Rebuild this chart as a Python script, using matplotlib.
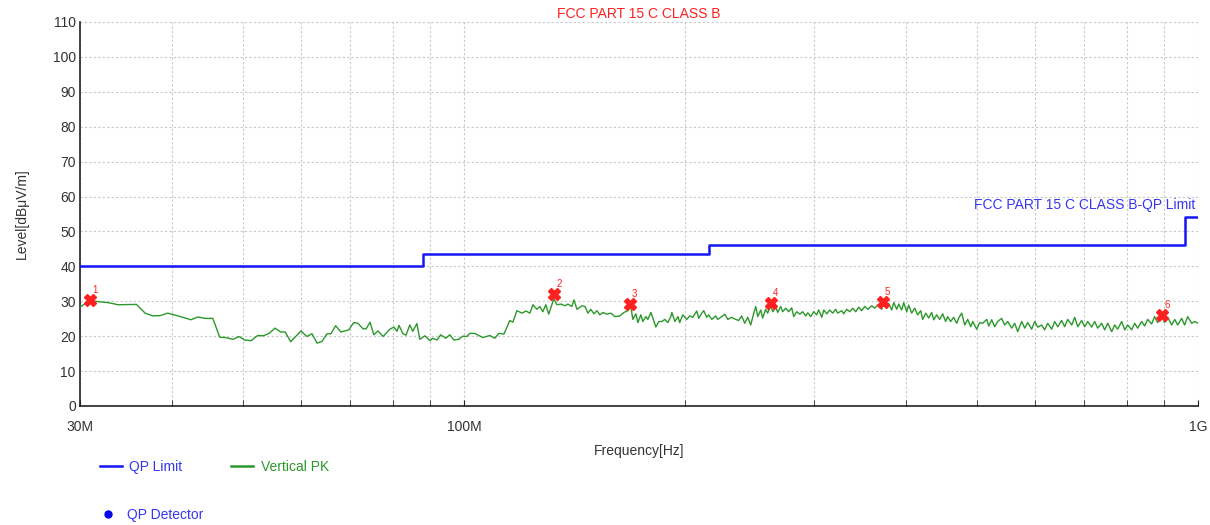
import matplotlib
matplotlib.use("Agg")
import matplotlib.pyplot as plt
from matplotlib.lines import Line2D
from matplotlib.ticker import FixedLocator, NullFormatter

plt.rcParams['font.family'] = ['Liberation Sans', 'DejaVu Sans']

# ---------------- data ----------------
title = "FCC PART 15 C CLASS B"
limit_name = "FCC PART 15 C CLASS B-QP Limit"

# QP limit (MHz, dBuV/m), step-wise
limit_freq = [30, 88, 88, 216, 216, 960, 960, 1000]
limit_level = [40, 40, 43.5, 43.5, 46, 46, 54, 54]

# Vertical PK trace (MHz)
pk_freq = [
    30.0, 31.0, 31.4, 32.8, 33.8, 35.8, 36.8, 37.7, 38.6, 39.5, 40.8, 42.5, 43.4, 44.4, 45.5,
    46.5, 47.4, 48.5, 49.4, 50.3, 51.3, 52.4, 53.3, 54.3, 55.3, 56.3, 57.1, 58.1, 60.0, 61.1,
    62.1, 63.1, 64.1, 65.1, 65.9, 66.9, 68.0, 69.7, 70.8, 71.7, 72.9, 73.6, 74.5, 75.4, 76.4,
    77.6, 79.3, 80.3, 81.1, 81.6, 82.6, 83.4, 84.4, 85.2, 86.3, 87.1, 88.5, 89.9, 90.7, 91.9,
    93.0, 94.5, 95.7, 96.9, 98.4, 99.7, 100.9, 101.9, 103.5, 106.1, 108.5, 110.2, 111.6, 113.4, 115.5,
    116.6, 118.1, 120.0, 121.5, 123.0, 124.2, 125.7, 126.9, 128.1, 129.3, 130.5, 131.8, 132.6, 133.9, 135.6,
    137.3, 138.6, 140.3, 141.2, 142.6, 144.8, 146.2, 147.6, 148.9, 150.4, 151.8, 153.2, 154.7, 156.6, 158.6,
    160.6, 163.1, 165.2, 167.3, 168.8, 169.9, 171.5, 172.6, 174.2, 175.3, 177.0, 178.1, 179.8, 180.9, 182.6,
    184.3, 186.1, 187.8, 189.6, 191.4, 192.0, 193.8, 195.7, 196.8, 198.7, 201.2, 203.1, 205.0, 207.6, 208.9,
    210.9, 212.2, 214.2, 215.5, 217.6, 220.3, 221.7, 224.5, 226.7, 228.8, 231.6, 234.6, 236.8, 239.0, 241.3,
    243.6, 245.9, 248.2, 249.8, 251.4, 253.7, 255.3, 257.7, 259.3, 261.8, 263.5, 266.0, 267.6, 270.1, 271.8,
    274.4, 277.0, 279.6, 281.4, 284.1, 286.8, 289.4, 292.2, 294.0, 296.8, 299.6, 302.4, 304.3, 307.3, 309.2,
    312.1, 315.0, 318.0, 321.0, 323.0, 327.1, 329.1, 332.3, 335.4, 338.6, 341.8, 345.0, 348.2, 351.6, 354.9,
    359.4, 362.8, 366.3, 370.8, 373.2, 376.7, 379.0, 382.6, 385.1, 388.7, 391.1, 394.8, 397.3, 401.1, 403.5,
    407.4, 411.3, 415.1, 419.1, 421.7, 425.7, 429.8, 433.7, 436.5, 440.6, 444.7, 448.9, 453.2, 456.0, 460.3,
    464.7, 469.1, 472.1, 476.5, 481.1, 485.6, 490.2, 493.3, 499.5, 504.2, 509.0, 515.5, 518.7, 523.6, 528.5,
    533.5, 540.2, 545.3, 550.5, 557.4, 562.7, 568.0, 575.2, 580.7, 586.2, 593.5, 599.1, 604.8, 612.4, 618.2,
    624.1, 632.0, 637.9, 644.0, 652.0, 658.3, 664.5, 673.0, 679.3, 685.8, 694.2, 700.8, 707.4, 716.4, 723.2,
    730.0, 739.2, 746.2, 753.3, 762.8, 770.0, 777.2, 787.1, 794.6, 802.1, 812.1, 819.8, 827.5, 838.0, 845.9,
    853.9, 864.6, 872.8, 881.0, 892.2, 900.6, 909.2, 920.9, 929.6, 938.4, 949.9, 958.9, 968.0, 980.3, 989.5,
    1000.0,
]
pk_level = [
    28.3, 30.3, 30.0, 29.6, 29.0, 29.1, 26.6, 25.8, 25.9, 26.6, 25.8, 24.7, 25.5, 25.1, 25.1,
    19.7, 19.6, 19.1, 19.9, 18.9, 18.7, 20.2, 20.1, 20.8, 22.3, 21.2, 21.2, 18.4, 21.5, 19.9,
    20.7, 18.0, 18.5, 20.7, 20.7, 23.0, 21.2, 21.8, 23.9, 23.7, 22.1, 22.1, 24.0, 20.4, 21.5,
    19.9, 22.0, 22.6, 21.4, 23.1, 20.7, 20.3, 23.2, 21.4, 23.6, 19.1, 20.1, 18.7, 19.4, 18.9,
    20.4, 19.4, 20.4, 18.9, 19.1, 20.0, 19.9, 20.8, 20.8, 19.6, 20.2, 19.4, 20.8, 20.6, 24.5,
    24.0, 27.3, 26.6, 27.2, 26.6, 29.0, 27.7, 28.5, 27.0, 29.0, 26.3, 29.0, 30.7, 29.0, 29.2,
    28.7, 29.2, 28.5, 30.4, 27.7, 28.7, 28.5, 26.6, 27.7, 26.4, 27.3, 26.1, 26.8, 26.3, 26.6,
    25.6, 25.8, 26.8, 27.3, 28.5, 24.8, 26.4, 23.9, 26.1, 24.2, 25.6, 24.8, 26.8, 25.2, 22.6,
    24.2, 24.2, 24.8, 23.9, 25.6, 26.8, 24.2, 25.6, 23.9, 26.1, 24.8, 25.8, 25.4, 27.2, 25.1,
    26.6, 27.3, 25.4, 26.1, 24.8, 25.8, 24.8, 25.6, 26.3, 24.8, 25.4, 24.8, 24.5, 25.8, 23.7,
    25.4, 23.2, 26.5, 28.5, 25.6, 27.5, 25.2, 27.7, 26.6, 28.7, 27.0, 28.3, 26.8, 28.5, 27.0,
    28.0, 27.0, 28.1, 25.6, 27.0, 26.3, 27.0, 25.8, 26.7, 25.6, 27.0, 26.1, 27.5, 25.4, 27.5,
    26.4, 27.5, 26.6, 27.7, 26.6, 27.3, 26.4, 27.7, 27.0, 28.0, 27.0, 28.3, 27.3, 28.5, 27.7,
    28.7, 28.0, 29.0, 27.7, 29.6, 28.0, 29.4, 27.5, 29.6, 27.7, 29.2, 27.5, 29.6, 27.0, 28.9,
    26.6, 28.0, 26.1, 27.3, 24.8, 26.6, 25.2, 26.8, 24.7, 26.1, 24.8, 26.4, 24.2, 25.6, 24.2,
    25.4, 23.7, 25.2, 26.6, 23.2, 24.8, 22.7, 24.2, 22.0, 23.9, 23.7, 24.8, 22.9, 24.7, 22.7,
    24.2, 25.1, 23.2, 24.2, 22.3, 23.7, 21.3, 24.2, 22.3, 23.9, 22.0, 24.2, 22.6, 23.2, 21.8,
    23.7, 22.0, 24.2, 22.7, 24.5, 22.7, 24.8, 23.2, 25.4, 22.7, 24.5, 22.7, 24.2, 22.6, 24.2,
    22.3, 23.7, 21.8, 23.7, 21.3, 23.2, 22.0, 24.2, 21.8, 23.2, 21.8, 23.7, 22.3, 24.2, 22.9,
    24.8, 23.5, 25.6, 23.9, 25.8, 23.9, 25.4, 23.2, 24.8, 23.2, 25.1, 23.2, 25.6, 23.7, 24.2,
    23.7,
]

# Peak markers
mk_freq = [30.96, 132.7, 168.4, 262.0, 372.0, 893.0]
mk_level = [30.3, 32.1, 29.2, 29.5, 29.8, 26.1]
mk_labels = ["1", "2", "3", "4", "5", "6"]

x_major = [30, 100, 1000]
x_major_labels = ["30M", "100M", "1G"]
x_minor = [40, 50, 60, 70, 80, 90, 200, 300, 400, 500, 600, 700, 800, 900]
y_ticks = list(range(0, 111, 10))

legend_labels = ["QP Limit", "Vertical PK", "QP Detector"]

# ---------------- colors ----------------
c_limit = '#1515f5'
c_pk = '#2b982b'
c_red = '#ff2020'
c_text = '#333333'

fig = plt.figure(figsize=(12.1, 5.25), dpi=100)
ax = fig.add_axes([0.0661, 0.2267, 0.9240, 0.7314])

ax.plot(limit_freq, limit_level, color=c_limit, lw=1.8, zorder=3)
ax.plot(pk_freq, pk_level, color=c_pk, lw=1.0, zorder=4)
ax.plot(mk_freq, mk_level, linestyle='none', marker='X', markersize=8,
        color=c_red, markeredgecolor=c_red, zorder=5)
for f, l, t in zip(mk_freq, mk_level, mk_labels):
    ax.annotate(t, (f, l), xytext=(1.5, 3.5), textcoords='offset points',
                color=c_red, fontsize=7, ha='left', va='bottom', zorder=6)

ax.set_xscale('log')
ax.set_xlim(30, 1000)
ax.set_ylim(0, 110)
ax.xaxis.set_major_locator(FixedLocator(x_major))
ax.set_xticklabels(x_major_labels)
ax.xaxis.set_minor_locator(FixedLocator(x_minor))
ax.xaxis.set_minor_formatter(NullFormatter())
ax.set_yticks(y_ticks)

ax.grid(True, which='both', axis='x', color='#c8c8c8', linestyle=(0, (2, 2)), lw=0.8)
ax.grid(True, which='major', axis='y', color='#c8c8c8', linestyle=(0, (2, 2)), lw=0.8)
ax.set_axisbelow(True)

for s in ['top', 'right']:
    ax.spines[s].set_visible(False)
ax.spines['left'].set_color('#222222')
ax.spines['bottom'].set_color('#222222')
ax.spines['left'].set_linewidth(1.2)
ax.spines['bottom'].set_linewidth(1.2)

ax.tick_params(axis='y', length=0, pad=3, labelsize=10, labelcolor=c_text)
ax.tick_params(axis='x', which='major', direction='in', length=4, pad=10,
               labelsize=10, labelcolor=c_text, color='#222222')
ax.tick_params(axis='x', which='minor', direction='in', length=4, color='#222222')

ax.set_xlabel("Frequency[Hz]", fontsize=10, color=c_text, labelpad=7)
ax.set_ylabel("Level[dBμV/m]", fontsize=10, color=c_text, labelpad=17)

ax.set_title(title, color=c_red, fontsize=10, pad=3)
ax.text(990, 55.6, limit_name, color='#3535f5', fontsize=10, ha='right', va='bottom')

# Legends
h1 = [Line2D([], [], color=c_limit, lw=1.8), Line2D([], [], color=c_pk, lw=1.8)]
leg1 = fig.legend(h1, legend_labels[:2], loc='center left', bbox_to_anchor=(0.072, 0.11),
                  ncol=2, frameon=False, fontsize=10, handlelength=1.6, handletextpad=0.55,
                  columnspacing=3.5, labelcolor=['#3535f5', c_pk])
h2 = [Line2D([], [], color='#0000ee', marker='o', linestyle='none', markersize=5)]
leg2 = fig.legend(h2, legend_labels[2:], loc='center left', bbox_to_anchor=(0.066, 0.019),
                  frameon=False, fontsize=10, handlelength=2.2, handletextpad=0.3,
                  labelcolor=['#3535f5'])

fig.savefig("out.png", dpi=100)
